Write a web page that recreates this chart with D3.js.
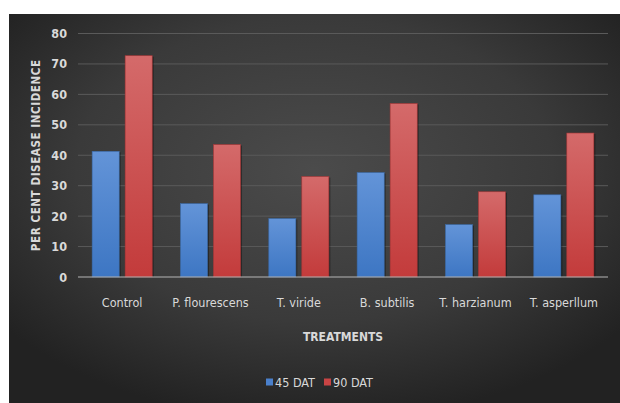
<!DOCTYPE html>
<html>
<head>
<meta charset="utf-8">
<script src="https://cdn.jsdelivr.net/npm/d3@7"></script>
<style>
  body { margin: 0; background: #fff; }
  svg { display: block; }
  text { font-family: "DejaVu Sans Condensed", "Liberation Sans Narrow", sans-serif; fill: #d9d9d9; }
</style>
</head>
<body>
<svg id="chart" width="620" height="403"></svg>
<script>
const CATEGORIES = ["Control", "P. flourescens", "T. viride", "B. subtilis", "T. harzianum", "T. asperllum"];
const SERIES = ["45 DAT", "90 DAT"];
const DAT45 = [41.3, 24.1, 19.2, 34.3, 17.2, 27];
const DAT90 = [72.7, 43.5, 33, 57, 28, 47.3];
const Y_TICKS = [0, 10, 20, 30, 40, 50, 60, 70, 80];

const width = 620, height = 403;
const margin = { top: 33.5, right: 12, bottom: 126, left: 78 };

const svg = d3.select("#chart");
const defs = svg.append("defs");

// dark background, lighter toward the middle
const bg = defs.append("radialGradient").attr("id", "bg")
  .attr("cx", "50%").attr("cy", "40%").attr("r", "65%");
bg.append("stop").attr("offset", "0%").attr("stop-color", "#4b4b4b");
bg.append("stop").attr("offset", "60%").attr("stop-color", "#3a3a3a");
bg.append("stop").attr("offset", "100%").attr("stop-color", "#222");

const grads = [["blueGrad", "#6394d8", "#3d76c3"], ["redGrad", "#d46a6a", "#c33b3b"]];
grads.forEach(([id, top, bottom]) => {
  const g = defs.append("linearGradient").attr("id", id).attr("x1", 0).attr("y1", 0).attr("x2", 0).attr("y2", 1);
  g.append("stop").attr("offset", "0%").attr("stop-color", top);
  g.append("stop").attr("offset", "100%").attr("stop-color", bottom);
});

svg.append("rect").attr("x", 9).attr("y", 14).attr("width", width - 9).attr("height", height - 14)
  .attr("fill", "url(#bg)");

const x0 = d3.scaleBand()
  .domain(CATEGORIES)
  .range([margin.left, width - margin.right])
  .paddingInner(0.32).paddingOuter(0.16);

const x1 = d3.scaleBand()
  .domain(SERIES)
  .range([0, x0.bandwidth()])
  .paddingInner(0.18);

const y = d3.scaleLinear()
  .domain([0, 80])
  .range([height - margin.bottom, margin.top]);

// gridlines
svg.append("g").selectAll("line")
  .data(Y_TICKS.filter(d => d > 0))
  .join("line")
  .attr("x1", margin.left).attr("x2", width - margin.right)
  .attr("y1", d => y(d)).attr("y2", d => y(d))
  .attr("stroke", "#5a5a5a").attr("stroke-width", 1);

// y axis labels
const yAxis = g => g
  .attr("transform", `translate(${margin.left - 11},0)`)
  .call(d3.axisLeft(y).tickValues(Y_TICKS).tickSize(0).tickPadding(0))
  .call(g => g.select(".domain").remove())
  .call(g => g.selectAll("text").attr("font-size", 12.5).attr("font-weight", "bold").attr("fill", "#d9d9d9"));
svg.append("g").call(yAxis);

// bars
const rows = CATEGORIES.map((c, i) => ({ name: c, values: [DAT45[i], DAT90[i]] }));
const fills = ["url(#blueGrad)", "url(#redGrad)"];
const strokes = ["#3a6aa8", "#a83535"];

const groups = svg.append("g").selectAll("g")
  .data(rows)
  .join("g")
  .attr("transform", d => `translate(${x0(d.name)},0)`);

groups.selectAll("rect.shadow")
  .data(d => d.values.map((v, i) => ({ key: SERIES[i], i, v })))
  .join("rect")
  .attr("class", "shadow")
  .attr("x", d => x1(d.key) + 1.5)
  .attr("y", d => y(d.v) + 1)
  .attr("width", x1.bandwidth())
  .attr("height", d => y(0) - y(d.v) - 1)
  .attr("fill", "rgba(0,0,0,0.35)");

groups.selectAll("rect.bar")
  .data(d => d.values.map((v, i) => ({ key: SERIES[i], i, v })))
  .join("rect")
  .attr("class", "bar")
  .attr("x", d => x1(d.key))
  .attr("y", d => y(d.v))
  .attr("width", x1.bandwidth())
  .attr("height", d => y(0) - y(d.v))
  .attr("fill", d => fills[d.i])
  .attr("stroke", d => strokes[d.i])
  .attr("stroke-width", 0.6);

// x axis
const xAxis = g => g
  .attr("transform", `translate(0,${y(0)})`)
  .call(d3.axisBottom(x0).tickSize(0).tickPadding(21))
  .call(g => g.select(".domain").attr("stroke", "#b5b5b5").attr("stroke-width", 1.2)
    .attr("d", `M${margin.left},0H${width - margin.right}`))
  .call(g => g.selectAll("text").attr("font-size", 12.5).attr("fill", "#d9d9d9"));
svg.append("g").call(xAxis);

// axis titles
svg.append("text")
  .attr("x", 343).attr("y", 341)
  .attr("text-anchor", "middle")
  .attr("font-size", 12).attr("font-weight", "bold")
  .text("TREATMENTS");

svg.append("text")
  .attr("transform", `translate(40,${(y(0) + y(80)) / 2}) rotate(-90)`)
  .attr("text-anchor", "middle")
  .attr("font-size", 11.5).attr("font-weight", "bold")
  .attr("letter-spacing", 0.6)
  .text("PER CENT DISEASE INCIDENCE");

// legend
const legendColors = ["#4a80cc", "#c94444"];
const legend = svg.append("g").attr("transform", "translate(266,383)");
const lx = [0, 58];
SERIES.forEach((s, i) => {
  legend.append("rect").attr("x", lx[i]).attr("y", -4.5).attr("width", 7).attr("height", 7)
    .attr("fill", legendColors[i]);
  legend.append("text").attr("x", lx[i] + 9).attr("y", 4)
    .attr("font-size", 12.5).text(s);
});
</script>
</body>
</html>
